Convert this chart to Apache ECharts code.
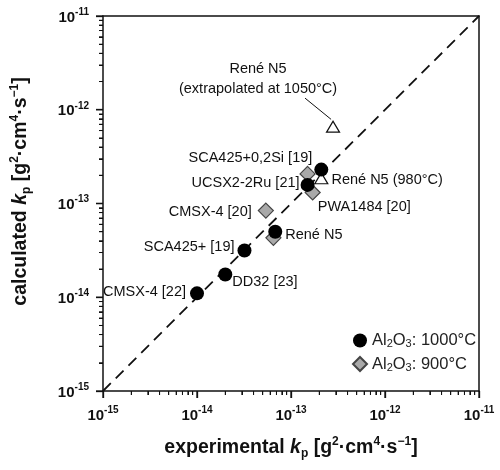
<!DOCTYPE html>
<html>
<head>
<meta charset="utf-8">
<script src="https://cdn.jsdelivr.net/npm/echarts@6/dist/echarts.min.js"></script>
<style>
  html, body { margin: 0; padding: 0; background: #fff; }
  #main { width: 500px; height: 470px; }
</style>
</head>
<body>
<div id="main"></div>
<script>
// Al2O3 at 1000°C (black circles)
const circleNames = ['CMSX-4 [22]', 'DD32 [23]', 'SCA425+ [19]', 'René N5', 'UCSX2-2Ru [21]', 'SCA425+0,2Si [19]'];
const circleExp = [1.0e-14, 2.0e-14, 3.2e-14, 6.8e-14, 1.5e-13, 2.1e-13];
const circleCalc = [1.1e-14, 1.75e-14, 3.15e-14, 5.0e-14, 1.58e-13, 2.3e-13];

// Al2O3 at 900°C (grey diamonds)
const diamondNames = ['CMSX-4 [20]', '', '', 'PWA1484 [20]'];
const diamondExp = [5.4e-14, 6.5e-14, 1.5e-13, 1.7e-13];
const diamondCalc = [8.4e-14, 4.3e-14, 2.07e-13, 1.31e-13];

// René N5 open triangles
const triNames = ['René N5 (980°C)', 'René N5\n(extrapolated at 1050°C)'];
const triExp = [2.1e-13, 2.8e-13];
const triCalc = [1.86e-13, 6.6e-13];

// pointer line to the extrapolated value
const arrowExp = [1.41e-13, 2.67e-13];
const arrowCalc = [1.33e-12, 7.9e-13];

const axisMin = 1e-15;
const axisMax = 1e-11;
const majorTicks = [1e-15, 1e-14, 1e-13, 1e-12, 1e-11];
const minorTicks = [];
for (let e = -15; e < -11; e++) {
  for (let m = 2; m <= 9; m++) minorTicks.push(m * Math.pow(10, e));
}

const font = '"Liberation Sans", Arial, sans-serif';

// label placement per point
const pointLabels = {
  'CMSX-4 [22]': { position: 'left', distance: 4, offset: [0, -1] },
  'DD32 [23]': { position: 'right', distance: 0, offset: [0, 8] },
  'SCA425+ [19]': { position: 'left', distance: 3, offset: [0, -4] },
  'René N5': { position: 'right', distance: 3, offset: [0, 3] },
  'UCSX2-2Ru [21]': { position: 'left', distance: 1, offset: [0, -2] },
  'SCA425+0,2Si [19]': { position: 'left', distance: 2, offset: [0, -12] },
  'CMSX-4 [20]': { position: 'left', distance: 6, offset: [0, 1] },
  'PWA1484 [20]': { position: 'right', distance: 5, offset: [-8, 14] },
  'René N5 (980°C)': { position: 'right', distance: 3, offset: [0, 2] },
  'René N5\n(extrapolated at 1050°C)': { position: 'inside', offset: [-75, -48], align: 'center', lineHeight: 20 }
};

function buildData(xs, ys, names) {
  return xs.map(function (x, i) {
    const item = { value: [x, ys[i]], name: names[i] };
    if (names[i] && pointLabels[names[i]]) {
      item.label = Object.assign({ show: true, formatter: '{b}' }, pointLabels[names[i]]);
    }
    return item;
  });
}

const labelStyle = { color: '#111', fontSize: 14.5, fontFamily: font };

function tickLabel(v) {
  const e = Math.round(Math.log10(v));
  return '{b|10}{s|' + e + '}';
}

const axisRich = {
  b: { fontSize: 15, fontWeight: 'bold', fontFamily: font, color: '#111', lineHeight: 18, verticalAlign: 'bottom' },
  s: { fontSize: 10, fontWeight: 'bold', fontFamily: font, color: '#111', lineHeight: 10, verticalAlign: 'top' }
};
const nameRich = {
  n: { fontSize: 19.5, fontWeight: 'bold', fontFamily: font, color: '#111', lineHeight: 24, verticalAlign: 'middle' },
  k: { fontSize: 19.5, fontWeight: 'bold', fontStyle: 'italic', fontFamily: font, color: '#111', lineHeight: 24, verticalAlign: 'middle' },
  sub: { fontSize: 12, fontWeight: 'bold', fontFamily: font, color: '#111', lineHeight: 10, verticalAlign: 'bottom' },
  sup: { fontSize: 12, fontWeight: 'bold', fontFamily: font, color: '#111', lineHeight: 10, verticalAlign: 'top' }
};
const unitName = '{sub|p}{n| [g}{sup|2}{n|·cm}{sup|4}{n|·s}{sup|−1}{n|]}';

const axisCommon = {
  type: 'log',
  logBase: 10,
  min: axisMin,
  max: axisMax,
  nameLocation: 'middle',
  nameMoveOverlap: false,
  nameTextStyle: { rich: nameRich },
  axisLine: { show: true, lineStyle: { color: '#111', width: 1.5 } },
  axisTick: { show: true, length: 7, lineStyle: { color: '#111', width: 1.3 } },
  minorTick: { show: true, splitNumber: 9, length: 4, lineStyle: { color: '#111', width: 1 } },
  splitLine: { show: false }
};

// top and right frame lines
const frameAxis = {
  type: 'log',
  logBase: 10,
  min: axisMin,
  max: axisMax,
  axisLine: { show: true, lineStyle: { color: '#111', width: 1.5 } },
  axisTick: { show: false },
  minorTick: { show: false },
  axisLabel: { show: false },
  splitLine: { show: false }
};

let myChart = echarts.init(document.getElementById('main'));
let option = {
  animation: false,
  textStyle: { fontFamily: font },
  grid: { left: 103, right: 21, top: 16, bottom: 79 },
  legend: {
    data: ['Al2O3: 1000°C', 'Al2O3: 900°C'],
    orient: 'vertical',
    left: 347,
    top: 327,
    itemWidth: 14,
    itemHeight: 14,
    itemGap: 6,
    formatter: function (name) {
      return '{n|Al}{sub|2}{n|O}{sub|3}{n|' + name.slice(5) + '}';
    },
    textStyle: {
      rich: {
        n: { fontSize: 16.5, fontFamily: font, color: '#222', lineHeight: 18, verticalAlign: 'middle' },
        sub: { fontSize: 11, fontFamily: font, color: '#222', lineHeight: 10, verticalAlign: 'bottom' }
      }
    }
  },
  xAxis: [
    Object.assign({}, axisCommon, {
      position: 'bottom',
      name: '{n|experimental }{k|k}' + unitName,
      nameGap: 45,
      axisLabel: { formatter: tickLabel, rich: axisRich, margin: 14 }
    }),
    Object.assign({}, frameAxis, { position: 'top' })
  ],
  yAxis: [
    Object.assign({}, axisCommon, {
      position: 'left',
      name: '{n|calculated }{k|k}' + unitName,
      nameRotate: 90,
      nameGap: 70,
      nameTextStyle: { rich: nameRich, padding: [0, 0, 0, 24] },
      axisLabel: { formatter: tickLabel, rich: axisRich, margin: 14 }
    }),
    Object.assign({}, frameAxis, { position: 'right' })
  ],
  series: [
    {
      name: 'parity',
      type: 'line',
      data: [[axisMin, axisMin], [axisMax, axisMax]],
      symbol: 'none',
      silent: true,
      z: 2,
      lineStyle: { color: '#111', width: 1.8, type: [11, 7] }
    },
    {
      name: 'pointer',
      type: 'line',
      data: arrowExp.map(function (x, i) { return [x, arrowCalc[i]]; }),
      symbol: 'none',
      silent: true,
      z: 2,
      lineStyle: { color: '#111', width: 1 }
    },
    {
      name: 'René N5',
      type: 'scatter',
      symbol: 'triangle',
      symbolSize: [13, 11],
      z: 3,
      itemStyle: { color: '#fff', borderColor: '#111', borderWidth: 1.2, opacity: 1 },
      label: labelStyle,
      data: buildData(triExp, triCalc, triNames)
    },
    {
      name: 'Al2O3: 900°C',
      type: 'scatter',
      symbol: 'diamond',
      symbolSize: 15,
      z: 4,
      itemStyle: { color: '#a9a9a9', borderColor: '#444', borderWidth: 1.2, opacity: 1 },
      label: labelStyle,
      data: buildData(diamondExp, diamondCalc, diamondNames)
    },
    {
      name: 'Al2O3: 1000°C',
      type: 'scatter',
      symbol: 'circle',
      symbolSize: 14,
      z: 5,
      itemStyle: { color: '#000', opacity: 1 },
      label: labelStyle,
      data: buildData(circleExp, circleCalc, circleNames)
    }
  ]
};

let problem = '';
try {
  myChart.setOption(option);
} catch (err) {
  problem += 'setOption: ' + err.message + ' ';
}

// outward tick marks, placed through the chart's own axis conversion
const tickMarks = [];
function addTicks(values, len, width) {
  values.forEach(function (v) {
    const px = myChart.convertToPixel({ gridIndex: 0 }, [v, axisMin]);
    const py = myChart.convertToPixel({ gridIndex: 0 }, [axisMin, v]);
    tickMarks.push({
      type: 'line', silent: true, z: 100,
      shape: { x1: px[0], y1: px[1], x2: px[0], y2: px[1] + len },
      style: { stroke: '#111', lineWidth: width }
    });
    tickMarks.push({
      type: 'line', silent: true, z: 100,
      shape: { x1: py[0], y1: py[1], x2: py[0] - len, y2: py[1] },
      style: { stroke: '#111', lineWidth: width }
    });
  });
}
try {
  addTicks(majorTicks, 7, 1.3);
  addTicks(minorTicks, 4, 1);
  myChart.setOption({ graphic: tickMarks });
} catch (err) {
  problem += 'ticks: ' + err.message;
}
if (problem) {
  myChart.setOption({ graphic: [{ type: 'text', left: 2, top: 2, z: 200, style: { text: problem, fontSize: 9, fill: '#c00' } }] });
}
</script>
</body>
</html>
